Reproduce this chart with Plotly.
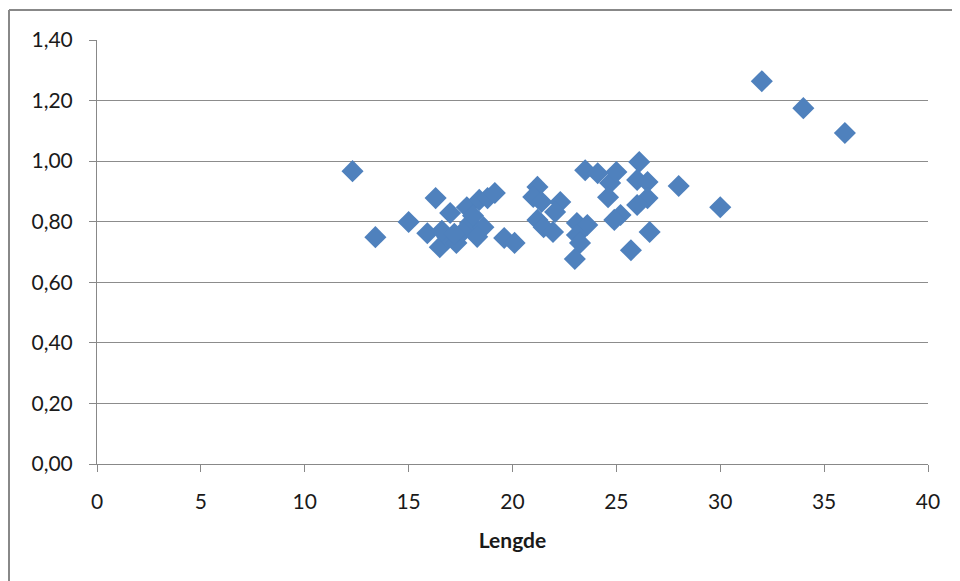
import plotly.graph_objects as go

lengde = [12.3, 13.4, 15.0, 16.3, 15.9, 16.5, 17.0, 16.85, 17.3, 17.8, 17.95, 17.6, 18.4, 18.8,
          19.15, 18.6, 18.3, 19.6, 20.1, 21.2, 21.0, 21.4, 22.3, 22.05, 21.2, 21.5, 21.95, 23.1,
          23.6, 23.1, 23.25, 23.0, 23.5, 24.1, 24.7, 24.6, 25.0, 26.1, 26.0, 26.5, 26.5, 26.0,
          25.2, 24.9, 26.6, 25.7, 28.0, 30.0, 32.0, 34.0, 36.0, 16.6, 17.2, 18.1]
verdi = [0.967, 0.749, 0.799, 0.878, 0.762, 0.716, 0.829, 0.75, 0.73, 0.848, 0.796, 0.766, 0.872,
         0.878, 0.895, 0.782, 0.75, 0.746, 0.73, 0.915, 0.882, 0.865, 0.865, 0.832, 0.806, 0.782,
         0.766, 0.796, 0.789, 0.756, 0.73, 0.677, 0.97, 0.96, 0.928, 0.881, 0.964, 0.997, 0.938,
         0.931, 0.878, 0.855, 0.822, 0.806, 0.766, 0.706, 0.918, 0.848, 1.264, 1.175, 1.093,
         0.77, 0.76, 0.82]

x_ticks = [0, 5, 10, 15, 20, 25, 30, 35, 40]
y_ticks = [0, 0.2, 0.4, 0.6, 0.8, 1.0, 1.2, 1.4]

fig = go.Figure(go.Scatter(
    x=lengde, y=verdi, mode="markers",
    marker=dict(symbol="diamond", size=17, color="#4F81BD", line=dict(width=0)),
    showlegend=False,
))

W, H = 960, 581
L, R, T, B = 89, 40, 32, 125
pw, ph = W - L - R, H - T - B

fig.update_layout(
    width=W, height=H,
    margin=dict(l=L, r=R, t=T, b=B),
    paper_bgcolor="white", plot_bgcolor="white",
    separators=", ",
    font=dict(family="Lato, Open Sans, sans-serif", size=21, color="#1a1a1a"),
    xaxis=dict(
        range=[0, 40], tickvals=x_ticks, showgrid=False, zeroline=False,
        showline=True, linecolor="#888", linewidth=1,
        ticks="outside", ticklen=7, tickcolor="#888",
        ticklabelstandoff=12,
        title=dict(text="<b>Lengde</b>", font=dict(size=21), standoff=21),
    ),
    yaxis=dict(
        range=[0, 1.4], tickvals=y_ticks, tickformat=".2f",
        showgrid=True, gridcolor="#8c8c8c", gridwidth=1, zeroline=False,
        showline=True, linecolor="#888", linewidth=1,
        ticks="outside", ticklen=7, tickcolor="#888",
        ticklabelstandoff=12,
    ),
    shapes=[
        dict(type="line", xref="paper", yref="paper",
             x0=(1 - L) / pw, x1=(1 - L) / pw, y0=(H - 2 - B) / ph, y1=-B / ph - 0.05,
             line=dict(color="#888", width=2)),
        dict(type="line", xref="paper", yref="paper",
             x0=(1 - L) / pw, x1=(W - L) / pw + 0.05, y0=(H - 2 - B) / ph, y1=(H - 2 - B) / ph,
             line=dict(color="#888", width=2)),
    ],
)

fig.write_html("out.html")
